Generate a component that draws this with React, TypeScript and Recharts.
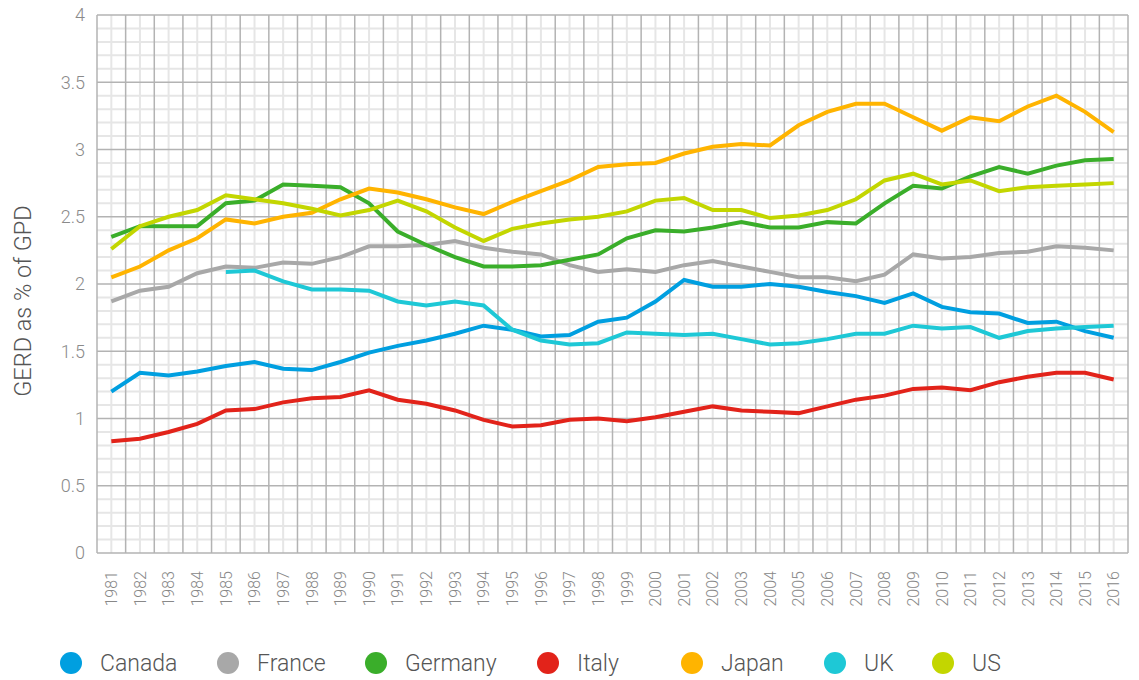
import React from 'react';
import { LineChart, Line, XAxis, YAxis, CartesianGrid, Legend } from 'recharts';

const years = [1981, 1982, 1983, 1984, 1985, 1986, 1987, 1988, 1989, 1990, 1991, 1992, 1993, 1994, 1995, 1996, 1997, 1998, 1999, 2000, 2001, 2002, 2003, 2004, 2005, 2006, 2007, 2008, 2009, 2010, 2011, 2012, 2013, 2014, 2015, 2016];

const canada = [1.20, 1.34, 1.32, 1.35, 1.39, 1.42, 1.37, 1.36, 1.42, 1.49, 1.54, 1.58, 1.63, 1.69, 1.66, 1.61, 1.62, 1.72, 1.75, 1.87, 2.03, 1.98, 1.98, 2.00, 1.98, 1.94, 1.91, 1.86, 1.93, 1.83, 1.79, 1.78, 1.71, 1.72, 1.65, 1.60];
const france = [1.87, 1.95, 1.98, 2.08, 2.13, 2.12, 2.16, 2.15, 2.20, 2.28, 2.28, 2.29, 2.32, 2.27, 2.24, 2.22, 2.14, 2.09, 2.11, 2.09, 2.14, 2.17, 2.13, 2.09, 2.05, 2.05, 2.02, 2.07, 2.22, 2.19, 2.20, 2.23, 2.24, 2.28, 2.27, 2.25];
const germany = [2.35, 2.43, 2.43, 2.43, 2.60, 2.62, 2.74, 2.73, 2.72, 2.60, 2.39, 2.29, 2.20, 2.13, 2.13, 2.14, 2.18, 2.22, 2.34, 2.40, 2.39, 2.42, 2.46, 2.42, 2.42, 2.46, 2.45, 2.60, 2.73, 2.71, 2.80, 2.87, 2.82, 2.88, 2.92, 2.93];
const italy = [0.83, 0.85, 0.90, 0.96, 1.06, 1.07, 1.12, 1.15, 1.16, 1.21, 1.14, 1.11, 1.06, 0.99, 0.94, 0.95, 0.99, 1.00, 0.98, 1.01, 1.05, 1.09, 1.06, 1.05, 1.04, 1.09, 1.14, 1.17, 1.22, 1.23, 1.21, 1.27, 1.31, 1.34, 1.34, 1.29];
const japan = [2.05, 2.13, 2.25, 2.34, 2.48, 2.45, 2.50, 2.53, 2.63, 2.71, 2.68, 2.63, 2.57, 2.52, 2.61, 2.69, 2.77, 2.87, 2.89, 2.90, 2.97, 3.02, 3.04, 3.03, 3.18, 3.28, 3.34, 3.34, 3.24, 3.14, 3.24, 3.21, 3.32, 3.40, 3.28, 3.13];
const uk = [null, null, null, null, 2.09, 2.10, 2.02, 1.96, 1.96, 1.95, 1.87, 1.84, 1.87, 1.84, 1.66, 1.58, 1.55, 1.56, 1.64, 1.63, 1.62, 1.63, 1.59, 1.55, 1.56, 1.59, 1.63, 1.63, 1.69, 1.67, 1.68, 1.60, 1.65, 1.67, 1.68, 1.69];
const us = [2.26, 2.43, 2.50, 2.55, 2.66, 2.63, 2.60, 2.56, 2.51, 2.55, 2.62, 2.54, 2.42, 2.32, 2.41, 2.45, 2.48, 2.50, 2.54, 2.62, 2.64, 2.55, 2.55, 2.49, 2.51, 2.55, 2.63, 2.77, 2.82, 2.74, 2.77, 2.69, 2.72, 2.73, 2.74, 2.75];

const yTicks = [0, 0.5, 1, 1.5, 2, 2.5, 3, 3.5, 4];
const yMinorTicks = [0.1, 0.2, 0.3, 0.4, 0.6, 0.7, 0.8, 0.9, 1.1, 1.2, 1.3, 1.4, 1.6, 1.7, 1.8, 1.9, 2.1, 2.2, 2.3, 2.4, 2.6, 2.7, 2.8, 2.9, 3.1, 3.2, 3.3, 3.4, 3.6, 3.7, 3.8, 3.9];
const xBoundaries = [1980.5, ...years.map((y) => y + 0.5)];

const series = [
  { key: 'Canada', values: canada, color: '#009fe0' },
  { key: 'France', values: france, color: '#a8a8a8' },
  { key: 'Germany', values: germany, color: '#3aae2a' },
  { key: 'Italy', values: italy, color: '#e2231a' },
  { key: 'Japan', values: japan, color: '#ffb400' },
  { key: 'UK', values: uk, color: '#1ec8d6' },
  { key: 'US', values: us, color: '#c3d600' },
];

// legend item slot widths (layout only)
const legendSlotWidths = [157, 148, 172, 144, 143, 108, 80];

const data = years.map((year, i) => {
  const row: Record<string, number | null> = { year };
  series.forEach((s) => {
    row[s.key] = s.values[i];
  });
  return row;
});

const FONT = 'Roboto, "Noto Sans", sans-serif';

const XTick = (props: any) => {
  const { x, y, payload } = props;
  const ty = y + 18;
  return (
    <text
      x={x}
      y={ty}
      transform={`rotate(-90, ${x}, ${ty})`}
      textAnchor="end"
      dy="0.36em"
      fill="#888"
      fontSize={16}
      fontFamily={FONT}
      fontWeight={300}
    >
      {payload.value}
    </text>
  );
};

const YLabel = () => (
  <text
    x={23}
    y={301}
    transform="rotate(-90, 23, 301)"
    textAnchor="middle"
    dy="0.36em"
    fill="#555"
    fontSize={23.5}
    fontFamily={FONT}
    fontWeight={300}
  >
    GERD as % of GPD
  </text>
);

const renderLegend = (props: any) => {
  const { payload } = props;
  return (
    <div style={{ display: 'flex', alignItems: 'center', height: 30, fontFamily: FONT, whiteSpace: 'nowrap' }}>
      {payload.map((entry: any, i: number) => (
        <div key={entry.value} style={{ display: 'flex', alignItems: 'center', width: legendSlotWidths[i] }}>
          <span
            style={{
              display: 'inline-block',
              width: 22,
              height: 22,
              borderRadius: 11,
              background: entry.color,
              marginRight: 18,
            }}
          />
          <span style={{ fontSize: 23, color: '#555', fontWeight: 300 }}>{entry.value}</span>
        </div>
      ))}
    </div>
  );
};

export default function App() {
  return (
    <div style={{ position: 'absolute', left: 0, top: 0, width: 1139, height: 680, background: '#fff' }}>
      <LineChart
        width={1139}
        height={680}
        data={data}
        margin={{ top: 15, right: 11, bottom: 37, left: 0 }}
      >
        <XAxis
          xAxisId="main"
          type="number"
          dataKey="year"
          domain={[1980.5, 2016.5]}
          ticks={years}
          interval={0}
          axisLine={false}
          tickLine={false}
          tickSize={0}
          tickMargin={0}
          height={60}
          tick={<XTick />}
        />
        <YAxis
          yAxisId="main"
          type="number"
          domain={[0, 4]}
          ticks={yTicks}
          interval={0}
          width={97}
          axisLine={false}
          tickLine={false}
          tickSize={0}
          tickMargin={12}
          tick={{ fill: '#8a8a8a', fontSize: 18, fontFamily: FONT, fontWeight: 300 }}
          label={<YLabel />}
        />
        <CartesianGrid
          xAxisId="main"
          yAxisId="main"
          horizontalValues={yMinorTicks}
          verticalValues={years}
          stroke="#e6e6e6"
          strokeWidth={2}
        />
        <CartesianGrid
          xAxisId="main"
          yAxisId="main"
          horizontalValues={yTicks}
          verticalValues={xBoundaries}
          stroke="#b3b3b3"
          strokeWidth={1.5}
        />
        {series.map((s) => (
          <Line
            key={s.key}
            xAxisId="main"
            yAxisId="main"
            type="linear"
            dataKey={s.key}
            stroke={s.color}
            strokeWidth={4}
            dot={false}
            activeDot={false}
            isAnimationActive={false}
          />
        ))}
        <Legend
          verticalAlign="bottom"
          align="left"
          wrapperStyle={{ left: 60, bottom: 2, width: 'auto' }}
          content={renderLegend}
        />
      </LineChart>
    </div>
  );
}
